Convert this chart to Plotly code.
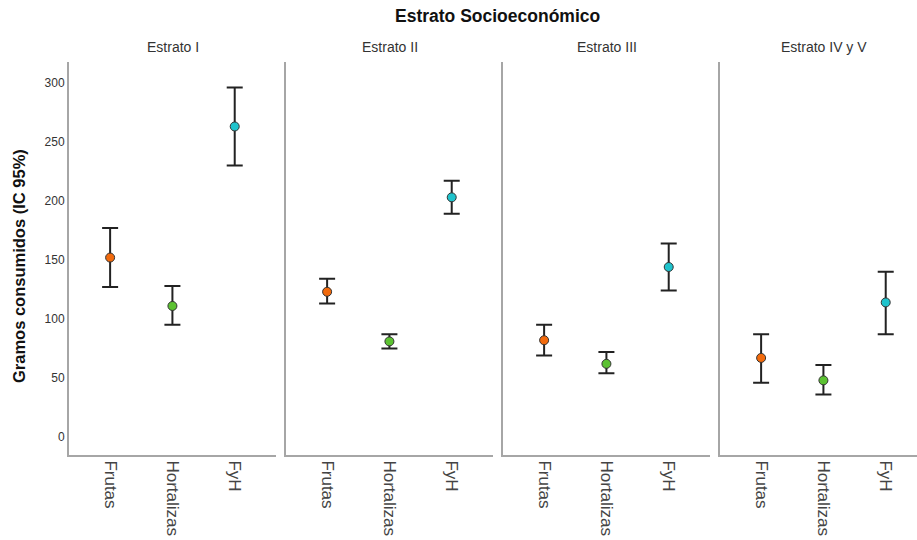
import plotly.graph_objects as go

W, H = 917, 540

estratos = ["Estrato I", "Estrato II", "Estrato III", "Estrato IV y V"]
categorias = ["Frutas", "Hortalizas", "FyH"]
colores = ["#F26A0C", "#5CC232", "#1FC3CC"]

media = [
    [152, 111, 263],
    [123, 81, 203],
    [82, 62, 144],
    [67, 48, 114],
]
superior = [
    [177, 128, 296],
    [134, 87, 217],
    [95, 72, 164],
    [87, 61, 140],
]
inferior = [
    [127, 95, 230],
    [113, 75, 189],
    [69, 54, 124],
    [46, 36, 87],
]

y_ticks = [0, 50, 100, 150, 200, 250, 300]

fig = go.Figure()

# pixel layout of panels
left0 = 69
pw = 207
gap = 10
px_per_cat = 62.3
top_px, bot_px = 62, 455
FONT = "Liberation Sans, Arial"

for i, est in enumerate(estratos):
    ax = "" if i == 0 else str(i + 1)
    x0 = left0 + i * (pw + gap)
    x1 = min(x0 + pw, W)
    right_val = -0.66 + (x1 - x0) / px_per_cat
    for j, cat in enumerate(categorias):
        m = media[i][j]
        fig.add_trace(go.Scatter(
            x=[j], y=[m],
            mode="markers",
            marker=dict(color=colores[j], size=9,
                        line=dict(color="#333333", width=1)),
            error_y=dict(type="data", symmetric=False,
                         array=[superior[i][j] - m],
                         arrayminus=[m - inferior[i][j]],
                         color="#222222", thickness=2, width=8),
            xaxis="x" + ax, yaxis="y" + ax,
            showlegend=False, hoverinfo="skip",
        ))
    fig.layout["xaxis" + ax] = dict(
        domain=[x0 / W, x1 / W],
        range=[-0.66, right_val],
        tickvals=list(range(len(categorias))),
        ticktext=categorias,
        tickangle=90,
        tickfont=dict(family=FONT, size=17, color="#444444"),
        showline=True, linecolor="#a6a6a6", linewidth=2,
        showgrid=False, zeroline=False, ticks="",
        anchor="y" + ax, fixedrange=True,
    )
    fig.layout["yaxis" + ax] = dict(
        domain=[1 - bot_px / H, 1 - top_px / H],
        range=[-15.2, 317.6],
        tickvals=y_ticks,
        showticklabels=(i == 0),
        tickfont=dict(family=FONT, size=12, color="#333333"),
        showline=True, linecolor="#a6a6a6", linewidth=2,
        showgrid=False, zeroline=False, ticks="",
        anchor="x" + ax, fixedrange=True,
    )
    fig.add_annotation(
        text=est, x=(x0 + x0 + pw) / 2 / W, y=1 - 47 / H,
        xref="paper", yref="paper", showarrow=False,
        xanchor="center", yanchor="middle",
        font=dict(family=FONT, size=14, color="#333333"),
    )

# y-axis title
fig.add_annotation(
    text="<b>Gramos consumidos (IC 95%)</b>", x=19 / W, y=1 - 266 / H,
    xref="paper", yref="paper", showarrow=False, textangle=-90,
    xanchor="center", yanchor="middle",
    font=dict(family=FONT, size=16.5, color="#111111"),
)

fig.add_annotation(
    text="<b>Estrato Socioeconómico</b>", x=497 / W, y=1 - 16 / H,
    xref="paper", yref="paper", showarrow=False,
    xanchor="center", yanchor="middle",
    font=dict(family=FONT, size=17.5, color="#111111"),
)

fig.update_layout(
    width=W, height=H,
    margin=dict(l=0, r=0, t=0, b=0),
    paper_bgcolor="white", plot_bgcolor="white",
)

fig.write_html("out.html", config={"displayModeBar": False})

with open("out.html", "r", encoding="utf-8") as f:
    html = f.read()
html = html.replace("<head>", "<head><style>html,body{margin:0;padding:0;overflow:hidden;}</style>", 1)
with open("out.html", "w", encoding="utf-8") as f:
    f.write(html)
